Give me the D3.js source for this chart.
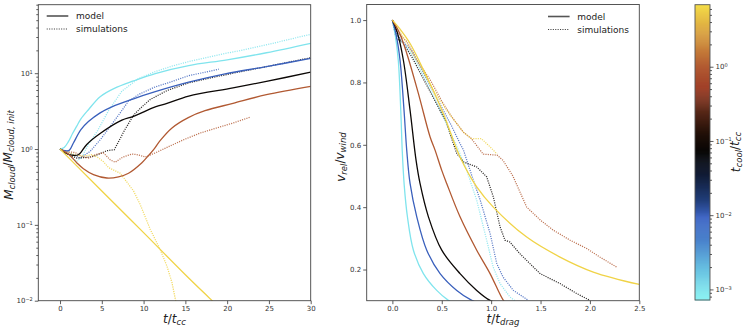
<!DOCTYPE html>
<html><head><meta charset="utf-8">
<script src="https://cdn.jsdelivr.net/npm/d3@7"></script>
<style>body{margin:0;background:#fff} svg{display:block} text{font-family:"DejaVu Sans",sans-serif}</style>
</head><body><svg id="c" width="748" height="331"></svg>
<script>
// ---------------- data ----------------
const tcoolValues = [0.001, 0.01, 0.08, 1.0, 6.0]; // cyan, blue, black, rust, yellow

// left panel: M_cloud / M_cloud,init vs t/t_cc
const massModelCyan   = [[0,1],[0.5,1.05],[1,1.25],[1.5,1.6],[2,2.0],[2.5,2.5],[3.4,3.3],[4.8,4.9],[6.5,6.3],[8.8,7.9],[11.4,9.9],[15.4,12.6],[20,15],[24.7,18.6],[30,24.8]];
const massModelBlue   = [[0,1],[0.6,0.95],[1.1,0.96],[1.6,1.2],[2.5,1.8],[3.4,2.3],[4.8,3.0],[6.2,3.6],[8.8,4.6],[11.4,5.7],[15.4,7.6],[19.75,9.8],[24.7,12.2],[30,15.7]];
const massModelBlack  = [[0,1],[0.7,0.88],[1.4,0.83],[2.2,0.84],[3.2,1.15],[4.8,1.6],[7.4,2.4],[8.8,2.7],[11.4,3.6],[12.8,4.0],[15.4,5.0],[20.7,6.4],[24.7,7.8],[30,10.3]];
const massModelRust   = [[0,1],[1,0.86],[2,0.66],[2.8,0.55],[4,0.46],[5.6,0.415],[7.0,0.43],[8.2,0.48],[9.8,0.66],[10.5,0.8],[11.2,0.98],[12,1.3],[13.4,1.9],[15.35,2.6],[17.35,3.2],[20.7,4.0],[24.7,5.2],[30,6.7]];
const massModelYellow = [[0,1],[2,0.6],[5,0.28],[10,0.079],[15,0.022],[18.2,0.01],[19,0.0082]];

const massSimCyan   = [[0,1],[0.5,0.92],[1,0.85],[1.5,0.75],[2,0.69],[2.6,0.78],[3.4,1.15],[4.5,1.75],[5.8,3.2],[7.4,5.8],[9.4,8.5],[11.4,10.5],[13.5,12.5],[15.5,14.3],[17.5,16],[19.5,18],[21.5,19.8],[25.5,24.8],[30,32.6]];
const massSimBlue   = [[0,1],[0.6,0.93],[1.2,0.89],[2.4,0.76],[3.6,0.93],[4.8,1.32],[5.8,1.85],[7.2,3.0],[8.2,4.3],[9.5,5.3],[11.4,6.6],[13,7.5],[15.3,9.2],[19,11.3]];
const massSimBlack  = [[0,1],[1,0.85],[2,0.76],[3,0.77],[4,0.8],[4.8,0.87],[5.6,0.95],[6.5,0.98],[7.0,1.25],[7.7,1.75],[8.8,2.8],[9.8,3.6],[10.8,4.5],[12.8,5.9],[15.3,7.4],[16.8,8.1],[20.7,10],[24.7,12.2],[30,16]];
const massSimRust   = [[0,1],[0.8,0.92],[1.8,0.9],[2.6,0.8],[3.4,0.76],[4.3,0.85],[5.2,0.89],[6.0,0.72],[6.6,0.67],[7.5,0.78],[8.6,0.86],[9.3,0.84],[10.2,0.785],[11.4,0.89],[12.8,1.05],[14.75,1.32],[16.75,1.62],[18.7,1.89],[20.7,2.2],[22.8,2.64]];
const massSimYellow = [[0,1],[1,0.9],[2,0.82],[3,0.81],[3.8,0.84],[4.5,0.78],[5.2,0.68],[5.8,0.57],[7.2,0.48],[8.8,0.28],[9.6,0.185],[10.8,0.087],[12,0.047],[12.8,0.0285],[13.4,0.0173],[13.8,0.0105],[14,0.008]];

// right panel: v_rel / v_wind vs t/t_drag
const velModelCyan   = [[0,1],[0.03,0.95],[0.06,0.87],[0.085,0.71],[0.1,0.58],[0.12,0.47],[0.152,0.37],[0.213,0.262],[0.314,0.187],[0.449,0.133],[0.567,0.101],[0.6,0.095]];
const velModelBlue   = [[0,1],[0.04,0.95],[0.078,0.87],[0.118,0.71],[0.146,0.58],[0.179,0.476],[0.247,0.369],[0.348,0.262],[0.483,0.187],[0.652,0.133],[0.804,0.101],[0.85,0.095]];
const velModelBlack  = [[0,1],[0.05,0.96],[0.111,0.872],[0.179,0.711],[0.24,0.55],[0.28,0.476],[0.365,0.369],[0.5,0.262],[0.685,0.187],[0.854,0.133],[0.989,0.101],[1.05,0.095]];
const velModelRust   = [[0,1],[0.07,0.96],[0.146,0.893],[0.263,0.765],[0.382,0.625],[0.432,0.583],[0.5,0.518],[0.55,0.476],[0.685,0.369],[0.854,0.262],[0.989,0.187],[1.124,0.101],[1.16,0.09]];
const velModelYellow = [[0,1],[0.08,0.97],[0.179,0.925],[0.348,0.818],[0.516,0.7],[0.685,0.561],[0.854,0.465],[1.022,0.4],[1.36,0.304],[1.697,0.24],[2.034,0.192],[2.5,0.152]];

const velSimCyan   = [[0,1],[0.05,0.95],[0.2,0.89],[0.35,0.8],[0.5,0.7],[0.6,0.63],[0.67,0.583],[0.753,0.518],[0.854,0.422],[0.955,0.294],[1.02,0.208],[1.09,0.155],[1.19,0.112],[1.24,0.1]];
const velSimBlue   = [[0,1],[0.05,0.95],[0.2,0.9],[0.35,0.81],[0.5,0.72],[0.6,0.66],[0.685,0.604],[0.72,0.583],[0.82,0.486],[0.89,0.422],[0.99,0.315],[1.057,0.219],[1.12,0.176],[1.225,0.133],[1.377,0.101]];
const velSimBlack  = [[0,1],[0.04,0.94],[0.1,0.93],[0.2,0.88],[0.3,0.82],[0.45,0.73],[0.55,0.67],[0.6,0.62],[0.652,0.572],[0.72,0.545],[0.854,0.529],[0.955,0.497],[1.022,0.433],[1.09,0.337],[1.14,0.294],[1.19,0.288],[1.29,0.251],[1.495,0.187],[1.697,0.155],[1.866,0.123],[2.0,0.101]];
const velSimRust   = [[0,1],[0.05,0.96],[0.15,0.93],[0.25,0.87],[0.38,0.81],[0.5,0.74],[0.6,0.69],[0.72,0.64],[0.8,0.62],[0.92,0.57],[1.06,0.567],[1.12,0.55],[1.22,0.5],[1.36,0.4],[1.5,0.358],[1.63,0.326],[1.8,0.294],[1.97,0.267],[2.1,0.24],[2.27,0.208]];
const velSimYellow = [[0,1],[0.1,0.95],[0.25,0.87],[0.4,0.785],[0.55,0.71],[0.72,0.64],[0.8,0.62],[0.9,0.62],[1.0,0.59],[1.06,0.57]];

// ticks
const massXTicks = [0,5,10,15,20,25,30];
const massYTicks = [0.01,0.1,1,10];
const velXTicks = [0,0.5,1,1.5,2,2.5];
const velYTicks = [0.2,0.4,0.6,0.8,1.0];
const cbarTicks = [0.001,0.01,0.1,1];
const legendLabels = ["model","simulations"];

// colormap (fraction 0 bottom -> 1 top)
const cmapStops  = [0, 0.024, 0.112, 0.203, 0.281, 0.339, 0.43, 0.498, 0.566, 0.643, 0.721, 0.792, 0.904, 1];
const cmapColors = ["#8cf2f3","#84eaef","#66bde0","#4a82cc","#3d64c4","#213e7a","#101a32","#050505","#221008","#5a2818","#a04028","#b25a32","#d8a040","#f4dc48"];

// ---------------- drawing ----------------
const svg = d3.select("#c");
const cmap = d3.scaleLinear().domain(cmapStops).range(cmapColors).interpolate(d3.interpolateRgb).clamp(true);
const cb = d3.scaleLog().domain([7.2e-4, 6.85]).range([300, 4.7]);
const cfrac = v => (Math.log10(v) - Math.log10(7.2e-4)) / (Math.log10(6.85) - Math.log10(7.2e-4));
const colorOf = v => cmap(cfrac(v));

const xL = d3.scaleLinear().domain([-2.6, 30]).range([38.3, 310.7]);
const yL = d3.scaleLog().domain([0.01, 80]).range([300.7, 4.7]);
const xR = d3.scaleLinear().domain([-0.26, 2.5]).range([366.7, 639.3]);
const yR = d3.scaleLinear().domain([0.1, 1.05]).range([300.7, 4.5]);

const defs = svg.append("defs");
function clip(id, x, y) {
  defs.append("clipPath").attr("id", id).append("rect")
    .attr("x", x.range()[0]).attr("y", y.range()[1])
    .attr("width", x.range()[1] - x.range()[0]).attr("height", y.range()[0] - y.range()[1]);
}
clip("clipL", xL, yL); clip("clipR", xR, yR);

const tickCol = "#333";
function styleAxis(g) {
  g.select(".domain").remove();
  g.selectAll(".tick line").attr("stroke", tickCol).attr("stroke-width", 0.8);
  g.selectAll(".tick text").attr("fill", "#333").attr("font-size", 7).attr("font-family", "DejaVu Sans");
}
function pow10Label(sel) {
  sel.each(function(d) {
    const e = Math.round(Math.log10(d));
    const t = d3.select(this).text("10");
    t.append("tspan").attr("dy", "-0.45em").attr("font-size", 5).text(e < 0 ? "\u2212" + (-e) : String(e));
  });
}
function minorLog(domain) {
  const out = [];
  const lo = Math.floor(Math.log10(domain[0])), hi = Math.ceil(Math.log10(domain[1]));
  for (let e = lo; e <= hi; e++) for (let m = 2; m <= 9; m++) {
    const v = m * Math.pow(10, e);
    if (v >= domain[0] && v <= domain[1]) out.push(v);
  }
  return out;
}

// -------- left panel --------
const gL = svg.append("g");
gL.append("g").attr("transform", `translate(0,${yL.range()[0]})`)
  .call(d3.axisBottom(xL).tickValues(massXTicks).tickSize(3.5).tickPadding(2).tickFormat(d3.format("d"))).call(styleAxis);
gL.append("g").attr("transform", `translate(${xL.range()[0]},0)`)
  .call(d3.axisLeft(yL).tickValues(massYTicks).tickSize(3.5).tickPadding(2)).call(styleAxis)
  .selectAll(".tick text").call(pow10Label);
gL.append("g").attr("transform", `translate(${xL.range()[0]},0)`)
  .call(d3.axisLeft(yL).tickValues(minorLog(yL.domain())).tickSize(2).tickFormat("")).call(styleAxis);

const lineL = d3.line().x(d => xL(d[0])).y(d => yL(d[1]));
const lineR = d3.line().x(d => xR(d[0])).y(d => yR(d[1]));

const massModels = [massModelCyan, massModelBlue, massModelBlack, massModelRust, massModelYellow];
const massSims = [massSimCyan, massSimBlue, massSimBlack, massSimRust, massSimYellow];
const velModels = [velModelCyan, velModelBlue, velModelBlack, velModelRust, velModelYellow];
const velSims = [velSimCyan, velSimBlue, velSimBlack, velSimRust, velSimYellow];

function drawSeries(parent, clipId, line, models, sims) {
  const g = parent.append("g").attr("clip-path", `url(#${clipId})`);
  sims.forEach((s, i) => {
    g.append("path").attr("d", line.curve(d3.curveLinear)(s)).attr("fill", "none")
      .attr("stroke", colorOf(tcoolValues[i])).attr("stroke-width", 1.25)
      .attr("stroke-dasharray", "1.1,1.2").attr("opacity", 0.85);
  });
  models.forEach((s, i) => {
    g.append("path").attr("d", line.curve(d3.curveCatmullRom.alpha(0.5))(s)).attr("fill", "none")
      .attr("stroke", colorOf(tcoolValues[i])).attr("stroke-width", 1.3);
  });
}
drawSeries(gL, "clipL", lineL, massModels, massSims);

function frame(x, y) {
  svg.append("rect").attr("x", x.range()[0]).attr("y", y.range()[1])
    .attr("width", x.range()[1] - x.range()[0]).attr("height", y.range()[0] - y.range()[1])
    .attr("fill", "none").attr("stroke", "#444").attr("stroke-width", 0.9);
}
frame(xL, yL);

function legend(x0, y0) {
  const g = svg.append("g");
  legendLabels.forEach((lab, i) => {
    const y = y0 + i * 13;
    g.append("line").attr("x1", x0).attr("x2", x0 + 21.6).attr("y1", y).attr("y2", y)
      .attr("stroke", i === 0 ? "#555" : "#444").attr("stroke-width", i === 0 ? 1.6 : 1.1)
      .attr("stroke-dasharray", i === 0 ? null : "1.1,1.3");
    g.append("text").attr("x", x0 + 29.3).attr("y", y).attr("dy", "0.35em")
      .attr("font-size", 9).attr("fill", "#222").text(lab);
  });
}
legend(46.7, 16);

// axis labels (mathtext-like)
function mathLabel(parent, parts, attrs) {
  const t = parent.append("text").attr("font-size", 12).attr("fill", "#222").attr("text-anchor", "middle");
  Object.entries(attrs).forEach(([k, v]) => t.attr(k, v));
  let sub = false;
  parts.forEach(p => {
    const ts = t.append("tspan").text(p.t);
    if (p.i) ts.attr("font-style", "italic");
    if (p.sub && !sub) { ts.attr("dy", "0.28em").attr("font-size", 8.5); sub = true; }
    else if (p.sub) { ts.attr("font-size", 8.5); }
    else if (!p.sub && sub) { ts.attr("dy", "-0.28em"); sub = false; }
  });
  return t;
}
mathLabel(svg, [{t:"t",i:1},{t:"/"},{t:"t",i:1},{t:"cc",i:1,sub:1}], {x: 174.5, y: 323});
mathLabel(svg, [{t:"M",i:1},{t:"cloud",i:1,sub:1},{t:"/"},{t:"M",i:1},{t:"cloud, init",i:1,sub:1}],
  {transform: "translate(13,155) rotate(-90)"});

// -------- right panel --------
const gR = svg.append("g");
gR.append("g").attr("transform", `translate(0,${yR.range()[0]})`)
  .call(d3.axisBottom(xR).tickValues(velXTicks).tickSize(3.5).tickPadding(2).tickFormat(d3.format(".1f"))).call(styleAxis);
gR.append("g").attr("transform", `translate(${xR.range()[0]},0)`)
  .call(d3.axisLeft(yR).tickValues(velYTicks).tickSize(3.5).tickPadding(2).tickFormat(d3.format(".1f"))).call(styleAxis);
drawSeries(gR, "clipR", lineR, velModels, velSims);
frame(xR, yR);
legend(548, 16.5);
mathLabel(svg, [{t:"t",i:1},{t:"/"},{t:"t",i:1},{t:"drag",i:1,sub:1}], {x: 503, y: 323});
mathLabel(svg, [{t:"v",i:1},{t:"rel",i:1,sub:1},{t:"/"},{t:"v",i:1},{t:"wind",i:1,sub:1}],
  {transform: "translate(345,157) rotate(-90)"});

// -------- colorbar --------
const cbX = 695, cbW = 15;
const cbG = svg.append("g");
const nSteps = 300;
const fr = d3.range(nSteps);
const y0 = cb.range()[0], y1 = cb.range()[1];
cbG.selectAll("rect.s").data(fr).join("rect").attr("class", "s")
  .attr("x", cbX).attr("width", cbW)
  .attr("y", i => y0 - (i + 1) * (y0 - y1) / nSteps)
  .attr("height", (y0 - y1) / nSteps + 0.6)
  .attr("fill", i => cmap((i + 0.5) / nSteps));
cbG.append("rect").attr("x", cbX).attr("y", y1).attr("width", cbW).attr("height", y0 - y1)
  .attr("fill", "none").attr("stroke", "#555").attr("stroke-width", 0.9);
cbG.append("g").attr("transform", `translate(${cbX + cbW},0)`)
  .call(d3.axisRight(cb).tickValues(cbarTicks).tickSize(3.5).tickPadding(2)).call(styleAxis)
  .selectAll(".tick text").call(pow10Label);
cbG.append("g").attr("transform", `translate(${cbX + cbW},0)`)
  .call(d3.axisRight(cb).tickValues(minorLog(cb.domain())).tickSize(2).tickFormat("")).call(styleAxis);
mathLabel(svg, [{t:"t",i:1},{t:"cool",i:1,sub:1},{t:"/"},{t:"t",i:1},{t:"cc",i:1,sub:1}],
  {transform: "translate(740,152) rotate(-90)"});
</script></body></html>
